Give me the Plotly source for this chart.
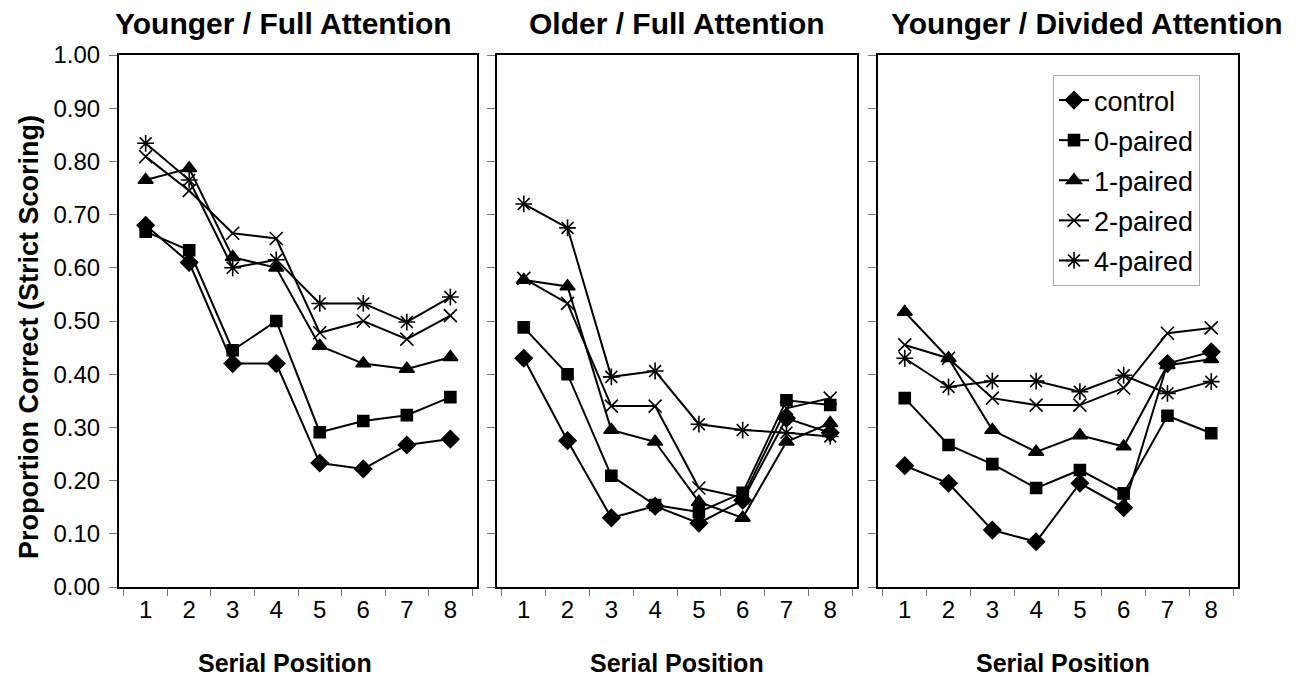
import plotly.graph_objects as go

positions = ["1", "2", "3", "4", "5", "6", "7", "8"]
series_names = ["control", "0-paired", "1-paired", "2-paired", "4-paired"]

# Younger / Full Attention
yfa_control = [0.68, 0.61, 0.42, 0.42, 0.233, 0.222, 0.267, 0.278]
yfa_p0 = [0.668, 0.633, 0.445, 0.50, 0.291, 0.312, 0.323, 0.357]
yfa_p1 = [0.765, 0.787, 0.62, 0.60, 0.453, 0.42, 0.41, 0.432]
yfa_p2 = [0.809, 0.745, 0.665, 0.655, 0.478, 0.50, 0.466, 0.51]
yfa_p4 = [0.834, 0.765, 0.60, 0.615, 0.533, 0.533, 0.498, 0.545]

# Older / Full Attention
ofa_control = [0.43, 0.275, 0.13, 0.152, 0.12, 0.163, 0.317, 0.29]
ofa_p0 = [0.488, 0.40, 0.209, 0.154, 0.141, 0.177, 0.351, 0.342]
ofa_p1 = [0.577, 0.565, 0.295, 0.273, 0.16, 0.13, 0.273, 0.308]
ofa_p2 = [0.58, 0.533, 0.34, 0.34, 0.186, 0.168, 0.336, 0.355]
ofa_p4 = [0.72, 0.675, 0.395, 0.406, 0.306, 0.295, 0.29, 0.283]

# Younger / Divided Attention
yda_control = [0.228, 0.195, 0.107, 0.085, 0.195, 0.149, 0.42, 0.442]
yda_p0 = [0.355, 0.267, 0.231, 0.186, 0.22, 0.176, 0.322, 0.289]
yda_p1 = [0.517, 0.43, 0.295, 0.254, 0.285, 0.264, 0.417, 0.428]
yda_p2 = [0.455, 0.43, 0.355, 0.342, 0.342, 0.374, 0.477, 0.487]
yda_p4 = [0.43, 0.376, 0.387, 0.387, 0.367, 0.398, 0.364, 0.386]

panel_titles = ["Younger / Full Attention", "Older / Full Attention", "Younger / Divided Attention"]
y_ticks = [0.0, 0.1, 0.2, 0.3, 0.4, 0.5, 0.6, 0.7, 0.8, 0.9, 1.0]

panels = [
    [yfa_control, yfa_p0, yfa_p1, yfa_p2, yfa_p4],
    [ofa_control, ofa_p0, ofa_p1, ofa_p2, ofa_p4],
    [yda_control, yda_p0, yda_p1, yda_p2, yda_p4],
]

symbols = ["diamond", "square", "triangle-up", "x-thin-open", "asterisk-open"]
sizes = [13, 11, 13, 13, 14]

# page has an 8px body margin: work in page pixels and convert
OFF = 8
W, H = 1311 - OFF, 687 - OFF
FONT = "Liberation Sans, Arial, sans-serif"


def fx(px):
    return (px - OFF) / W


def fy(py):
    return 1 - (py - OFF) / H


panel_px = [(119, 477), (497, 857), (878, 1238)]
top_px, bot_px = 55, 587

fig = go.Figure()

for p, data in enumerate(panels):
    xa = "x" if p == 0 else f"x{p+1}"
    ya = "y" if p == 0 else f"y{p+1}"
    for s, vals in enumerate(data):
        fig.add_trace(go.Scatter(
            x=positions, y=vals, xaxis=xa, yaxis=ya,
            mode="lines+markers",
            name=series_names[s],
            legendgroup=series_names[s],
            showlegend=(p == 0),
            line=dict(color="black", width=2),
            marker=dict(symbol=symbols[s], size=sizes[s], color="black",
                        line=dict(color="black", width=1.6)),
        ))

layout = dict(
    width=W, height=H, autosize=False,
    margin=dict(l=0, r=0, t=0, b=0, pad=0, autoexpand=False),
    paper_bgcolor="white", plot_bgcolor="white",
    font=dict(family=FONT, color="black", size=24),
    showlegend=True,
    legend=dict(
        x=fx(1053), y=fy(75), xanchor="left", yanchor="top",
        bordercolor="#aaaaaa", borderwidth=1, bgcolor="white",
        font=dict(family=FONT, size=27, color="black"),
        traceorder="grouped", tracegroupgap=2,
        itemwidth=30,
    ),
)

for p in range(3):
    x0, x1 = panel_px[p]
    xkey = "xaxis" if p == 0 else f"xaxis{p+1}"
    ykey = "yaxis" if p == 0 else f"yaxis{p+1}"
    ya = "y" if p == 0 else f"y{p+1}"
    xa = "x" if p == 0 else f"x{p+1}"
    layout[xkey] = dict(
        domain=[fx(x0), fx(x1)], anchor=ya, automargin=False,
        type="category", categoryorder="array", categoryarray=positions,
        tickson="boundaries", ticks="outside", ticklen=7, tickcolor="#777",
        showline=True, mirror=True, linecolor="black", linewidth=2,
        showgrid=False, zeroline=False,
        tickfont=dict(family=FONT, size=24, color="black"),
        fixedrange=True,
    )
    layout[ykey] = dict(
        domain=[fy(bot_px), fy(top_px)], anchor=xa, automargin=False,
        range=[0, 1], tickvals=y_ticks, tickformat=".2f",
        ticks="outside", ticklen=8, tickcolor="#777",
        showticklabels=(p == 0), ticklabelstandoff=4,
        showline=True, mirror=True, linecolor="black", linewidth=2,
        showgrid=False, zeroline=False,
        tickfont=dict(family=FONT, size=24, color="black"),
        fixedrange=True,
    )

fig.update_layout(**layout)

title_x = [283, 677, 1087]
xtitle_x = [285, 677, 1063]
for p in range(3):
    fig.add_annotation(x=fx(title_x[p]), y=fy(23), xref="paper", yref="paper",
                       text=f"<b>{panel_titles[p]}</b>", showarrow=False,
                       font=dict(family=FONT, size=30, color="black"),
                       xanchor="center", yanchor="middle")
    fig.add_annotation(x=fx(xtitle_x[p]), y=fy(663), xref="paper", yref="paper",
                       text="<b>Serial Position</b>", showarrow=False,
                       font=dict(family=FONT, size=25, color="black"),
                       xanchor="center", yanchor="middle")

fig.add_annotation(x=fx(29), y=fy(337), xref="paper", yref="paper",
                   text="<b>Proportion Correct (Strict Scoring)</b>", showarrow=False,
                   textangle=-90,
                   font=dict(family=FONT, size=27, color="black"),
                   xanchor="center", yanchor="middle")

fig.write_html("out.html", config={"displayModeBar": False})
